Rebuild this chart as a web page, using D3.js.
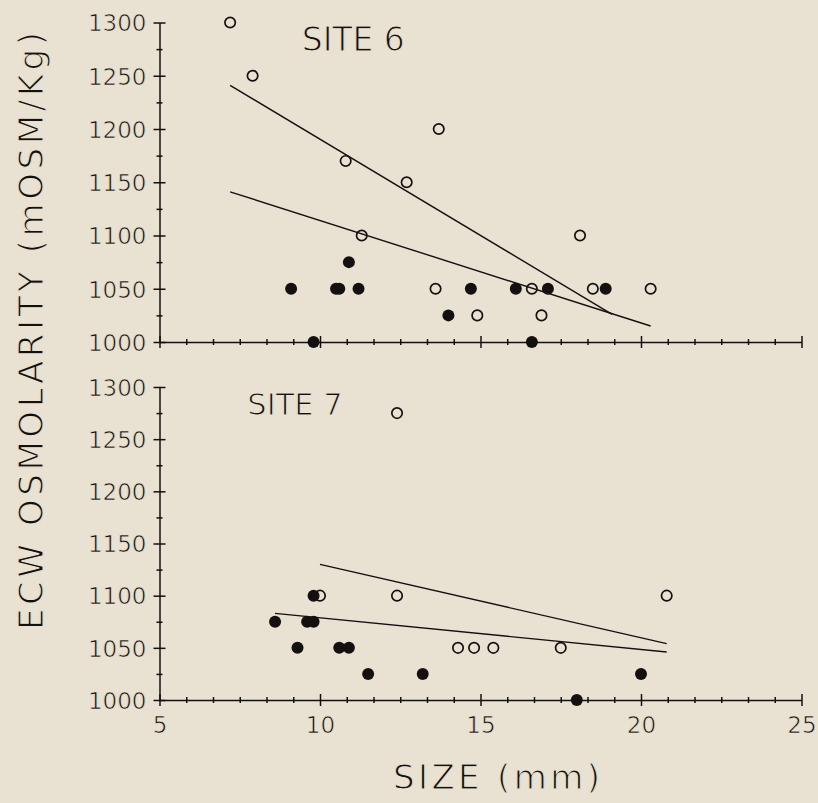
<!DOCTYPE html>
<html><head><meta charset="utf-8">
<script src="https://cdn.jsdelivr.net/npm/d3@7"></script>
<style>
html,body{margin:0;padding:0;background:#e9e2d2;}
svg{display:block;}
text{font-family:"DejaVu Sans",sans-serif;fill:#141010;stroke:#e9e2d2;stroke-width:0.7px;}
text.big{stroke-width:1.1px;}
</style></head><body>
<svg id="chart" width="818" height="803"></svg>
<script>
// ---- data ----
const xTickValues = [5, 10, 15, 20, 25];
const yTickValues = [1000, 1050, 1100, 1150, 1200, 1250, 1300];

const site6OpenSize   = [7.2, 7.9, 13.7, 10.8, 12.7, 11.3, 13.6, 14.9, 18.1, 16.6, 18.5, 20.3, 16.9];
const site6OpenOsm    = [1300, 1250, 1200, 1170, 1150, 1100, 1050, 1025, 1100, 1050, 1050, 1050, 1025];
const site6FilledSize = [10.9, 9.1, 10.5, 10.6, 11.2, 14.7, 14.0, 9.8, 16.1, 17.1, 18.9, 16.6];
const site6FilledOsm  = [1075, 1050, 1050, 1050, 1050, 1050, 1025, 1000, 1050, 1050, 1050, 1000];
const site6LineUpperSize = [7.2, 19.1];
const site6LineUpperOsm  = [1241, 1026];
const site6LineLowerSize = [7.2, 20.3];
const site6LineLowerOsm  = [1141, 1015];

const site7OpenSize   = [12.4, 10.0, 12.4, 14.3, 14.8, 15.4, 17.5, 20.8];
const site7OpenOsm    = [1275, 1100, 1100, 1050, 1050, 1050, 1050, 1100];
const site7FilledSize = [9.8, 8.6, 9.6, 9.8, 9.3, 10.6, 10.9, 11.5, 13.2, 20.0, 18.0];
const site7FilledOsm  = [1100, 1075, 1075, 1075, 1050, 1050, 1050, 1025, 1025, 1025, 1000];
const site7LineUpperSize = [10.0, 20.8];
const site7LineUpperOsm  = [1130, 1054];
const site7LineLowerSize = [8.6, 20.8];
const site7LineLowerOsm  = [1083, 1046];

const panelTitles = ["SITE 6", "SITE 7"];
const xTitle = "SIZE (mm)";
const yTitle = "ECW OSMOLARITY (mOSM/Kg)";

// ---- drawing ----
const ink = "#141010";
const svg = d3.select("#chart");
const x = d3.scaleLinear().domain([5, 25]).range([159.5, 801.5]);
const xMinor = d3.range(0, 25).map(i => 5 + i * 5 / 6).filter(v => v <= 25.001);

const panels = [
  {title: panelTitles[0], y: d3.scaleLinear().domain([1000, 1300]).range([342, 22.5]),
   openS: site6OpenSize, openV: site6OpenOsm, fillS: site6FilledSize, fillV: site6FilledOsm,
   lines: [[site6LineUpperSize, site6LineUpperOsm], [site6LineLowerSize, site6LineLowerOsm]],
   titlePos: [301.7, 50.7], titleSize: 33, xLabels: false},
  {title: panelTitles[1], y: d3.scaleLinear().domain([1000, 1300]).range([700, 387]),
   openS: site7OpenSize, openV: site7OpenOsm, fillS: site7FilledSize, fillV: site7FilledOsm,
   lines: [[site7LineUpperSize, site7LineUpperOsm], [site7LineLowerSize, site7LineLowerOsm]],
   titlePos: [247.3, 415], titleSize: 30.5, xLabels: true}
];

function styleAxis(g) {
  g.selectAll("path.domain").attr("stroke", ink).attr("stroke-width", 1.5);
  g.selectAll(".tick line").attr("stroke", ink).attr("stroke-width", 1.5);
}

panels.forEach(p => {
  const y = p.y;
  const base = y.range()[0];
  const gp = svg.append("g");

  // x axis major
  const gx = gp.append("g").attr("transform", `translate(0,${base})`)
    .call(d3.axisBottom(x).tickValues(xTickValues).tickSizeOuter(0).tickSizeInner(6)
      .tickFormat(p.xLabels ? d3.format("d") : () => ""));
  gx.selectAll(".tick line").attr("y1", -6).attr("y2", 6);
  gx.selectAll(".tick text").attr("y", 32.5).attr("dy", null)
    .style("font-size", "23px").attr("font-family", null).attr("fill", ink);
  styleAxis(gx);
  // x axis minor
  const gxm = gp.append("g").attr("transform", `translate(0,${base})`)
    .call(d3.axisBottom(x).tickValues(xMinor.filter(v => Math.abs(v - Math.round(v / 5) * 5) > 0.01))
      .tickSizeOuter(0).tickFormat(() => ""));
  gxm.select("path.domain").remove();
  gxm.selectAll(".tick line").attr("y1", -3).attr("y2", 3);
  styleAxis(gxm);

  // y axis major
  const gy = gp.append("g").attr("transform", `translate(${x(5)},0)`)
    .call(d3.axisLeft(y).tickValues(yTickValues).tickSizeOuter(0).tickSizeInner(6)
      .tickFormat(d3.format("d")));
  gy.selectAll(".tick line").attr("x1", -6).attr("x2", 6);
  gy.selectAll(".tick text").attr("x", -13).attr("dy", "0.36em")
    .style("font-size", "23px").attr("font-family", null).attr("fill", ink);
  styleAxis(gy);
  // y axis minor
  const gym = gp.append("g").attr("transform", `translate(${x(5)},0)`)
    .call(d3.axisLeft(y).tickValues(d3.range(1025, 1300, 50)).tickSizeOuter(0).tickFormat(() => ""));
  gym.select("path.domain").remove();
  gym.selectAll(".tick line").attr("x1", -3).attr("x2", 3);
  styleAxis(gym);

  // regression lines
  const line = d3.line().x(d => x(d[0])).y(d => y(d[1]));
  p.lines.forEach(([s, v]) => {
    gp.append("path").datum(s.map((d, i) => [d, v[i]]))
      .attr("d", line).attr("fill", "none").attr("stroke", ink).attr("stroke-width", 1.4);
  });

  // open points
  gp.append("g").selectAll("circle").data(p.openS.map((d, i) => [d, p.openV[i]])).join("circle")
    .attr("cx", d => x(d[0])).attr("cy", d => y(d[1])).attr("r", 5.2)
    .attr("fill", "none").attr("stroke", ink).attr("stroke-width", 1.7);
  // filled points
  gp.append("g").selectAll("circle").data(p.fillS.map((d, i) => [d, p.fillV[i]])).join("circle")
    .attr("cx", d => x(d[0])).attr("cy", d => y(d[1])).attr("r", 6)
    .attr("fill", ink);

  gp.append("text").attr("class", "big").attr("x", p.titlePos[0]).attr("y", p.titlePos[1])
    .style("font-size", p.titleSize + "px").text(p.title);
});

svg.append("text").attr("class", "big").attr("x", 496.5).attr("y", 789).attr("text-anchor", "middle")
  .attr("textLength", 207).attr("lengthAdjust", "spacing")
  .style("font-size", "34px").text(xTitle);

svg.append("text").attr("class", "big").attr("transform", "translate(43,331) rotate(-90)").attr("text-anchor", "middle")
  .attr("textLength", 598).attr("lengthAdjust", "spacing")
  .style("font-size", "34px").text(yTitle);
</script>
</body></html>
